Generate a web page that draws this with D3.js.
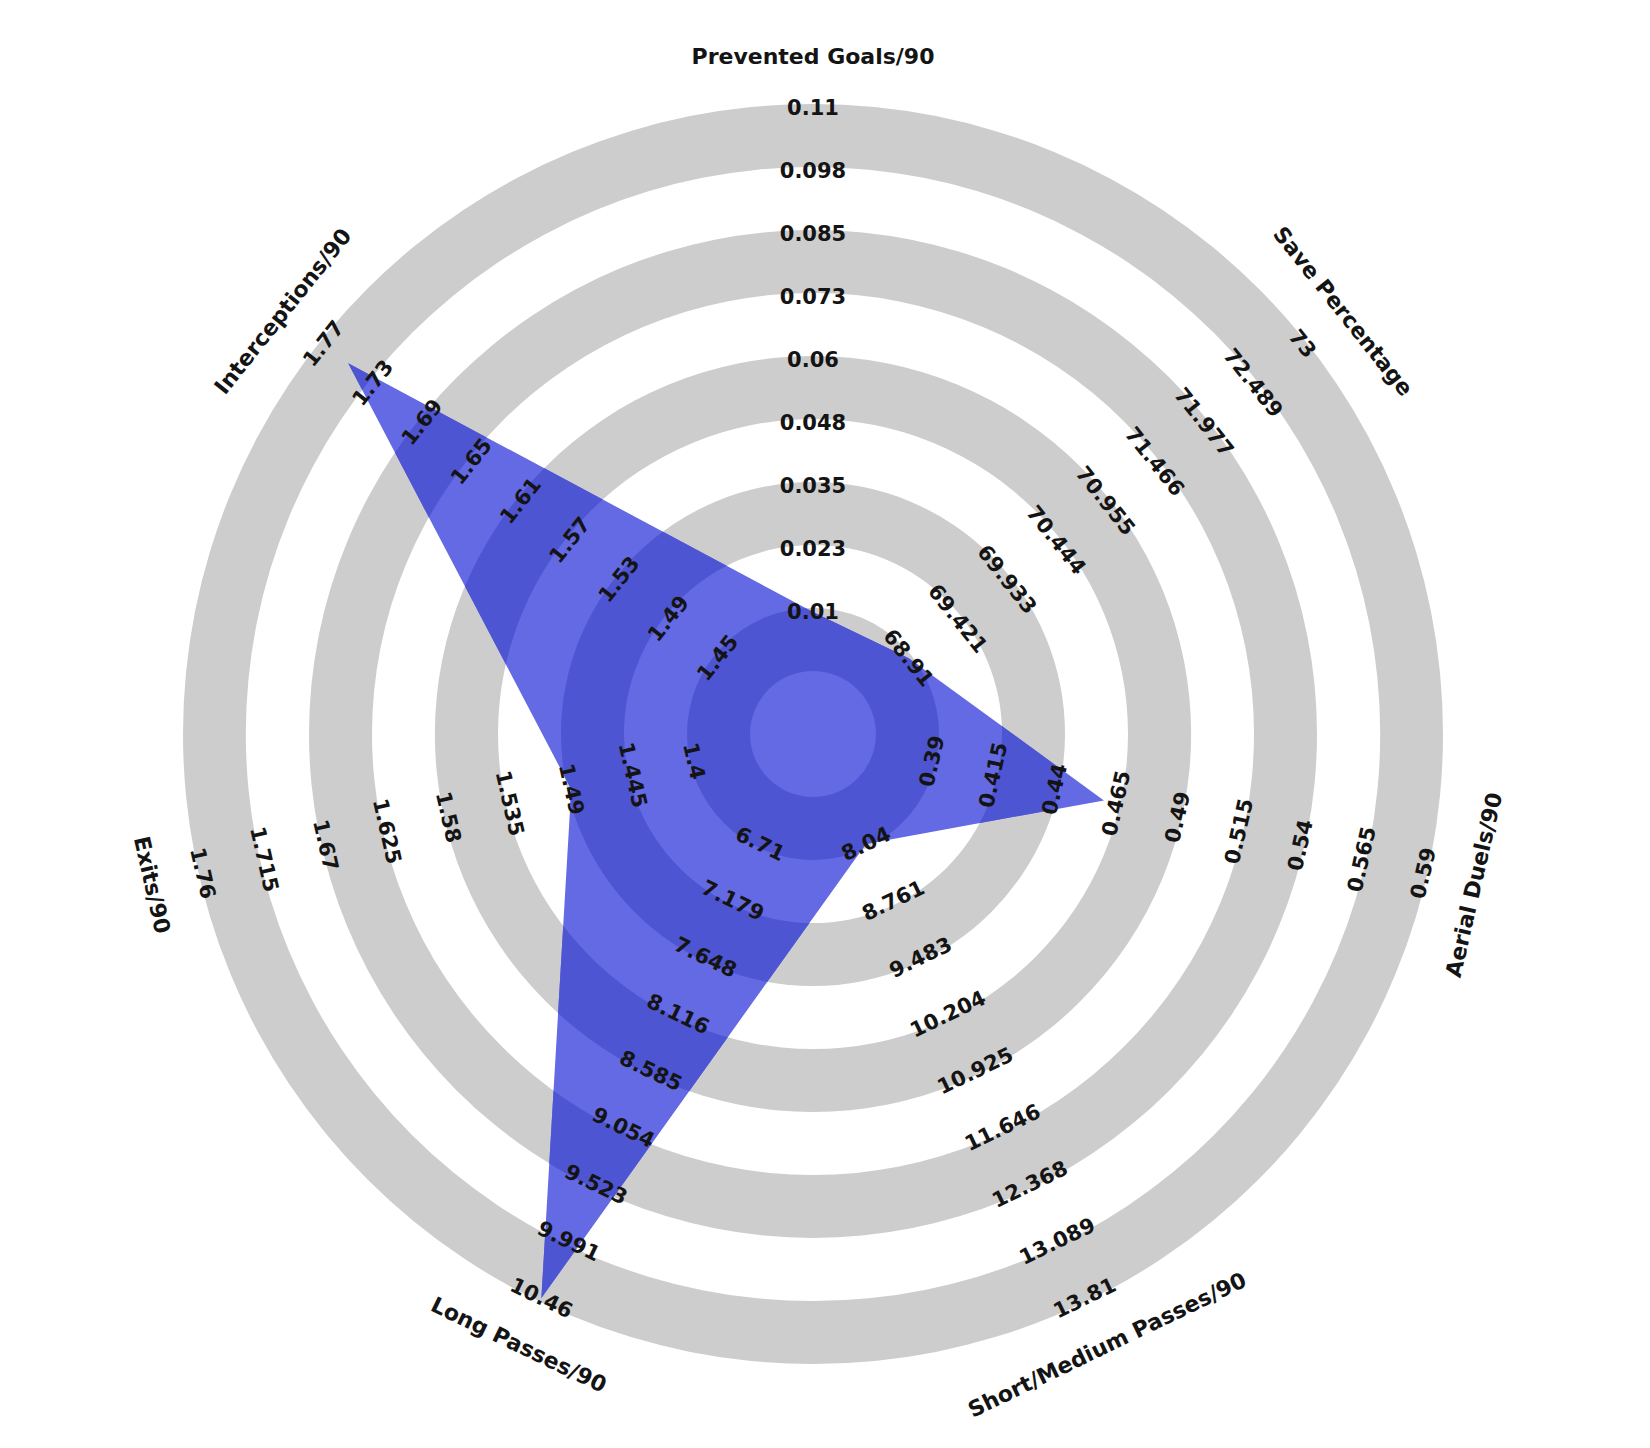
<!DOCTYPE html>
<html>
<head>
<meta charset="utf-8">
<script src="https://cdn.jsdelivr.net/npm/d3@7"></script>
<style>
body { margin: 0; background: #fff; }
svg { display: block; }
text { font-family: "DejaVu Sans", sans-serif; font-weight: bold; fill: #141414; }
</style>
</head>
<body>
<svg id="chart"></svg>
<script>
// ---------------- data ----------------
const params = ["Prevented Goals/90", "Save Percentage", "Aerial Duels/90",
  "Short/Medium Passes/90", "Long Passes/90", "Exits/90", "Interceptions/90"];

const rangeMin = [0.01, 68.91, 0.39, 8.04, 6.71, 1.4, 1.45];
const rangeMax = [0.11, 73, 0.59, 13.81, 10.46, 1.76, 1.77];

const values = [0.01, 68.91, 0.46, 8.04, 10.46, 1.49, 1.75];

const tickLabels = [
  ["0.01", "0.023", "0.035", "0.048", "0.06", "0.073", "0.085", "0.098", "0.11"],
  ["68.91", "69.421", "69.933", "70.444", "70.955", "71.466", "71.977", "72.489", "73"],
  ["0.39", "0.415", "0.44", "0.465", "0.49", "0.515", "0.54", "0.565", "0.59"],
  ["8.04", "8.761", "9.483", "10.204", "10.925", "11.646", "12.368", "13.089", "13.81"],
  ["6.71", "7.179", "7.648", "8.116", "8.585", "9.054", "9.523", "9.991", "10.46"],
  ["1.4", "1.445", "1.49", "1.535", "1.58", "1.625", "1.67", "1.715", "1.76"],
  ["1.45", "1.49", "1.53", "1.57", "1.61", "1.65", "1.69", "1.73", "1.77"]
];

// ---------------- layout ----------------
const width = 1650, height = 1448;
const cx = 813, cy = 734;

const ringColor = '#cdcdcd';
const fillLight = '#6469e4';
const fillDark = '#4e55d2';

const svg = d3.select('#chart')
  .attr('width', width)
  .attr('height', height);

const g = svg.append('g').attr('transform', `translate(${cx},${cy})`);

// 10 bands of equal width, every second one is a ring
const bandScale = d3.scaleLinear().domain([0, 10]).range([0, 630]);
const rings = d3.range(5).map(j => ({inner: bandScale(2 * j + 1), outer: bandScale(2 * j + 2)}));

// tick label positions along each spoke
const tickScale = d3.scaleLinear().domain([0, 8]).range([122, 626]);
const labelRadius = 678;

const n = params.length;
const angle = i => (90 - i * 360 / n) * Math.PI / 180;
const pt = (i, r) => [r * Math.cos(angle(i)), -r * Math.sin(angle(i))];

// text rotation: tangent to the circle, never upside down
const rot = i => {
  let a = 90 - (90 - i * 360 / n);
  while (a >= 90) a -= 180;
  while (a < -90) a += 180;
  return a;
};

const arc = d3.arc().startAngle(0).endAngle(2 * Math.PI);

//================RINGS======================================
g.selectAll('.ring')
  .data(rings)
  .enter()
  .append('path')
  .attr('class', 'ring')
  .attr('d', d => arc({innerRadius: d.inner, outerRadius: d.outer}))
  .attr('fill', ringColor);

//================POLYGON====================================
const valueScales = params.map((p, i) => d3.scaleLinear()
  .domain([rangeMin[i], rangeMax[i]])
  .range(tickScale.range())
  .clamp(true));

const vertices = values.map((v, i) => pt(i, valueScales[i](v)));

svg.append('defs')
  .append('clipPath')
  .attr('id', 'radar-clip')
  .append('polygon')
  .attr('points', vertices.map(p => p.join(',')).join(' '));

g.append('polygon')
  .attr('points', vertices.map(p => p.join(',')).join(' '))
  .attr('fill', fillLight);

g.append('g')
  .attr('clip-path', 'url(#radar-clip)')
  .selectAll('path')
  .data(rings)
  .enter()
  .append('path')
  .attr('d', d => arc({innerRadius: d.inner, outerRadius: d.outer}))
  .attr('fill', fillDark);

//================LABELS=====================================
params.forEach((p, i) => {
  tickLabels[i].forEach((t, k) => {
    const [x, y] = pt(i, tickScale(k));
    g.append('text')
      .attr('transform', `translate(${x},${y}) rotate(${rot(i)})`)
      .attr('text-anchor', 'middle')
      .attr('dominant-baseline', 'central')
      .style('font-size', '21px')
      .text(t);
  });

  const [lx, ly] = pt(i, labelRadius);
  g.append('text')
    .attr('transform', `translate(${lx},${ly}) rotate(${rot(i)})`)
    .attr('text-anchor', 'middle')
    .attr('dominant-baseline', 'central')
    .style('font-size', '22px')
    .text(p);
});
</script>
</body>
</html>
